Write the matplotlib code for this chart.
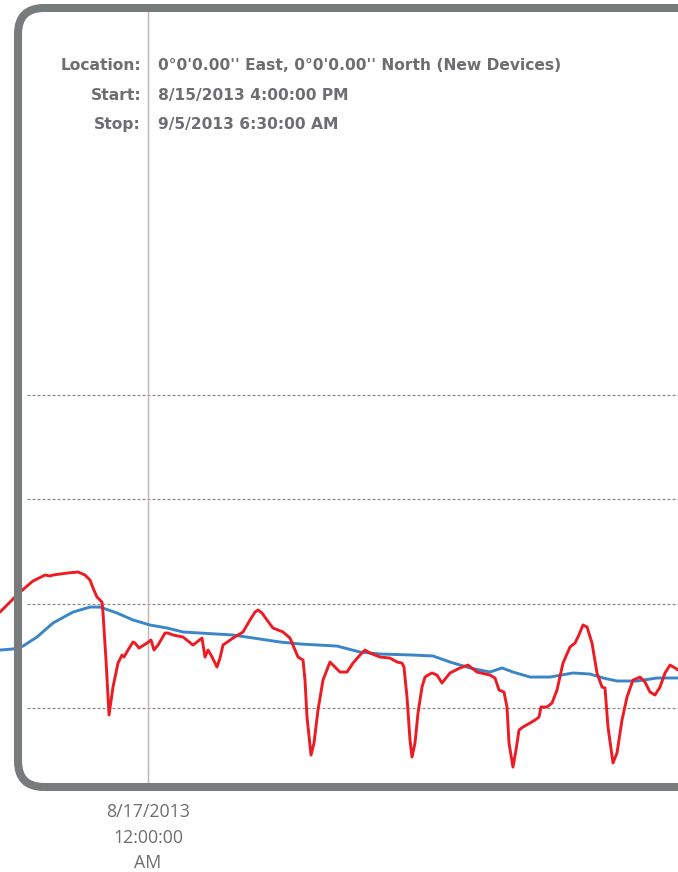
import matplotlib
matplotlib.use("Agg")
import matplotlib.pyplot as plt
from matplotlib.patches import FancyBboxPatch

# ---- data (hours relative to 8/17/2013 12:00:00 AM) ----
red_hours = [-35.52, -33.12, -30.72, -27.6, -24.72, -23.52, -22.8, -19.44, -16.8, -15.12,
             -13.92, -13.2, -12.24, -11.04, -10.8, -10.08, -9.36, -8.4, -7.2, -6.24,
             -5.76, -4.8, -3.6, -3.12, -2.16, -0.24, 0.72, 1.44, 2.4, 4.08, 4.8, 6.0,
             8.4, 10.8, 12.96, 13.68, 14.4, 15.12, 16.56, 17.28, 18.0, 20.4, 22.8,
             24.48, 25.68, 26.4, 27.36, 28.56, 30.0, 32.4, 34.08, 35.28, 36.0, 37.2,
             37.68, 38.16, 39.12, 39.84, 40.8, 42.0, 43.68, 44.88, 46.08, 47.76, 49.2,
             50.88, 52.08, 53.28, 55.68, 58.08, 59.76, 60.96, 61.44, 62.16, 62.88,
             63.36, 64.08, 64.8, 65.76, 66.48, 67.2, 68.16, 69.36, 70.56, 72.48, 74.88,
             76.8, 78.96, 82.08, 83.28, 84.24, 85.44, 86.16, 86.64, 87.6, 88.32, 89.04,
             90.0, 91.68, 92.88, 93.84, 94.32, 95.76, 96.96, 98.16, 99.6, 101.28,
             102.48, 103.2, 104.4, 105.36, 106.56, 107.76, 108.96, 109.68, 110.4,
             111.6, 112.56, 113.76, 114.96, 116.4, 118.08, 119.28, 120.48, 121.68,
             122.88, 124.08, 125.28, 126.48, 127.2]
red_values = [19.2, 20.16, 21.12, 22.18, 22.75, 22.66, 22.75, 22.94, 23.04, 22.75,
              22.27, 21.51, 20.64, 20.16, 19.11, 14.6, 9.33, 12.01, 14.31, 15.08,
              14.89, 15.56, 16.33, 16.23, 15.75, 16.23, 16.52, 15.56, 16.04, 17.19,
              17.19, 17.0, 16.81, 16.04, 16.71, 14.89, 15.56, 15.08, 13.93, 14.79,
              16.04, 16.71, 17.29, 18.44, 19.2, 19.4, 19.11, 18.44, 17.67, 17.29,
              16.71, 15.56, 14.89, 14.6, 12.68, 9.14, 5.49, 6.64, 9.81, 12.68, 14.41,
              13.93, 13.45, 13.45, 14.31, 15.08, 15.56, 15.27, 14.89, 14.79, 14.41,
              14.31, 13.93, 11.05, 6.93, 5.3, 6.64, 9.52, 12.01, 12.97, 13.16, 13.36,
              13.16, 12.4, 13.36, 13.84, 14.12, 13.45, 13.16, 12.88, 11.73, 11.53,
              10.1, 6.64, 4.34, 5.97, 7.89, 8.18, 8.56, 8.85, 9.14, 10.1, 10.1, 10.48,
              11.73, 14.31, 15.85, 16.23, 16.81, 17.96, 17.77, 16.23, 13.36, 12.01,
              11.92, 8.18, 4.73, 5.69, 8.85, 11.05, 12.68, 12.97, 12.49, 11.53, 11.25,
              12.01, 13.36, 14.12, 13.84, 13.64]

blue_hours = [-35.52, -32.4, -30.0, -26.64, -22.8, -18.0, -13.92, -11.52, -7.44, -3.6,
              0.48, 4.56, 8.4, 20.4, 31.68, 36.48, 45.36, 50.88, 55.68, 63.6, 68.4,
              72.48, 77.28, 82.08, 84.96, 87.6, 91.68, 96.48, 102.0, 106.08, 109.2,
              112.56, 117.36, 122.16, 127.2]
blue_values = [15.56, 15.66, 15.94, 16.81, 18.15, 19.2, 19.68, 19.68, 19.11, 18.44,
               17.96, 17.67, 17.29, 17.0, 16.33, 16.14, 15.94, 15.37, 15.18, 15.08,
               14.99, 14.41, 13.84, 13.45, 13.84, 13.45, 12.97, 12.97, 13.36, 13.26,
               12.88, 12.59, 12.59, 12.88, 12.88]

grid_values = [10, 20, 30, 40]
tick_hours = [0]
tick_labels = ["8/17/2013\n12:00:00\nAM"]

info_labels = ["Location:", "Start:", "Stop:"]
info_values = ["0°0'0.00'' East, 0°0'0.00'' North (New Devices)",
               "8/15/2013 4:00:00 PM",
               "9/5/2013 6:30:00 AM"]

assert len(red_hours) == len(red_values)
assert len(blue_hours) == len(blue_values)

# ---- figure ----
plt.rcParams['lines.scale_dashes'] = False
W, H = 678, 872
fig = plt.figure(figsize=(W / 100, H / 100), dpi=100)
fig.patch.set_facecolor("white")
ax = fig.add_axes([0, 0, 1, 1])
ax.set_xlim(-35.52, 127.2)
ax.set_ylim(-5.72, 77.88)
ax.axis("off")

text_gray = "#6d6e71"

# grid
ax.hlines(grid_values, -29.0, 127.2, colors="#8c8c8c", linewidth=0.9,
          linestyles=(0, (2.2, 1.4)), zorder=1)
# vertical time marker
for t in tick_hours:
    ax.axvline(t, ymin=(H - 783) / H, ymax=(H - 12) / H, color="#bdb3ac",
               linewidth=1.0, zorder=1.5)

ax.plot(blue_hours, blue_values, color="#3b86c6", linewidth=2.1,
        solid_joinstyle="round", solid_capstyle="round", zorder=3)
ax.plot(red_hours, red_values, color="#ec1c24", linewidth=2.1,
        solid_joinstyle="round", solid_capstyle="round", zorder=4)

# tick labels
for t, lab in zip(tick_hours, tick_labels):
    ax.text(t, -5.72 + (H - 803) / 10.43, lab, ha="center", va="top",
            fontsize=12.8, color=text_gray, family="Open Sans",
            linespacing=1.55, zorder=5)

# rounded border
border = FancyBboxPatch((18, H - 787), 760, 787 - 8,
                        boxstyle="round,pad=0,rounding_size=26",
                        transform=None, facecolor="none", edgecolor="#777b7b",
                        linewidth=5.8, zorder=10)
fig.patches.append(border)

# info text
for i, (lab, val) in enumerate(zip(info_labels, info_values)):
    y = 1 - (66 + i * 29.5) / H
    fig.text(141 / W, y, lab, ha="right", va="center", fontsize=11.2,
             fontweight="bold", color=text_gray, family="DejaVu Sans")
    fig.text(158 / W, y, val, ha="left", va="center", fontsize=11.2,
             fontweight="bold", color=text_gray, family="DejaVu Sans")

fig.savefig("out.png", dpi=100, facecolor="white")
